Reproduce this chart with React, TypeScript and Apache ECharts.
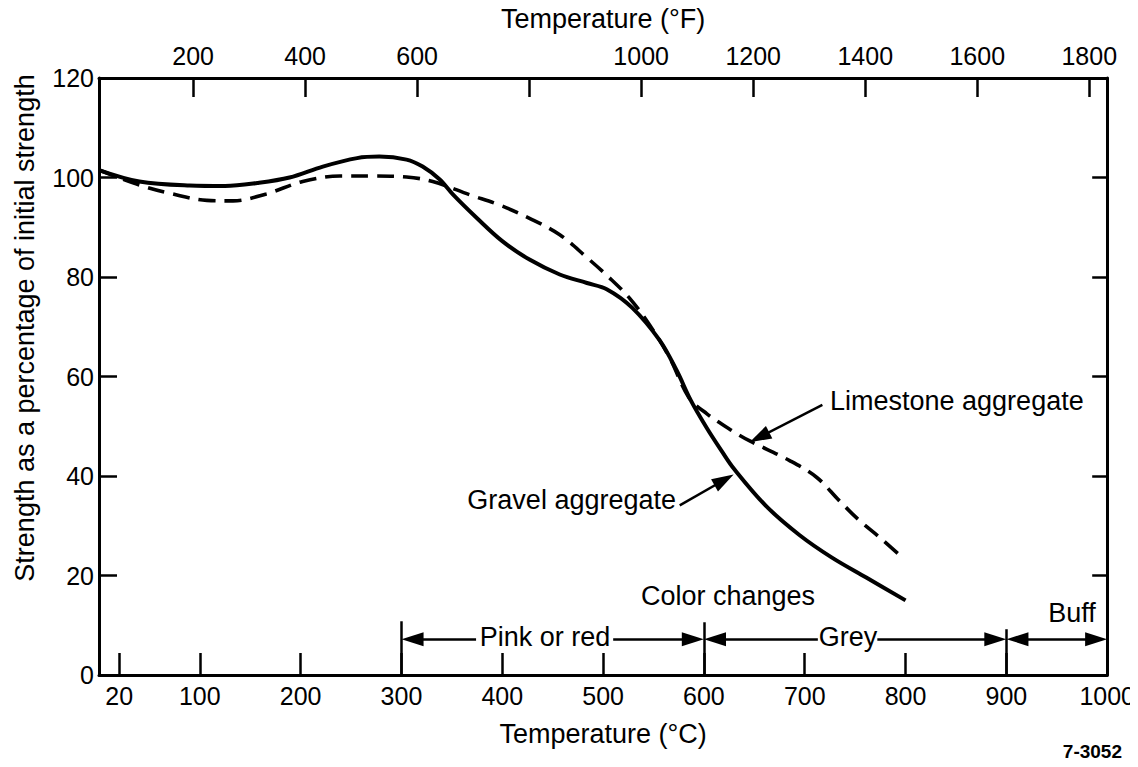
import React, { useEffect, useRef } from "react";
import * as echarts from "echarts";

// ---- Data ----
const gravelTempC = [0, 40, 90, 125, 157, 189, 222, 256, 278, 305, 321, 338, 351, 375, 400, 427, 457, 484, 504, 529, 556, 573, 587, 603, 618, 630, 662, 695, 727, 761, 800];
const gravelStrength = [101.5, 99.2, 98.4, 98.3, 98.9, 100, 102.2, 103.9, 104.2, 103.6, 102.2, 99.6, 96.6, 91.8, 87.2, 83.5, 80.5, 78.8, 77.5, 73.8, 67.3, 61.2, 55.2, 49.6, 44.9, 41.4, 33.9, 28.1, 23.6, 19.6, 15];

const limestoneTempC = [0, 40, 73, 107, 133, 166, 202, 239, 272, 305, 331, 368, 397, 427, 457, 484, 506, 526, 546, 566, 585, 603, 628, 645, 685, 712, 734, 754, 774, 797];
const limestoneStrength = [101.5, 98.5, 96.7, 95.4, 95.3, 96.7, 99.2, 100.3, 100.3, 100.1, 99.2, 96.5, 94.5, 91.8, 88.5, 83.9, 79.9, 75.8, 70.4, 63.8, 55.8, 52.5, 49.1, 47.1, 43.1, 39.7, 35.1, 31.1, 27.7, 23.6];

const celsiusTicks = [20, 100, 200, 300, 400, 500, 600, 700, 800, 900];
const celsiusLabels = [20, 100, 200, 300, 400, 500, 600, 700, 800, 900, 1000];
const fahrenheitTicks = [200, 400, 600, 800, 1000, 1200, 1400, 1600, 1800];
const fahrenheitLabels = [200, 400, 600, 1000, 1200, 1400, 1600, 1800];
const strengthInnerTicks = [20, 40, 60, 80, 100];

const colorBounds = [300, 600, 900];
const colorBoundTops = [10.8, 10.6, 9.2];
const colorNames = ["Pink or red", "Grey", "Buff"];

const FONT = "'Liberation Sans', Arial, Helvetica, sans-serif";

const zip = (xs: number[], ys: number[]) => xs.map((x, i) => [x, ys[i]]);

const arrowSize = [14, 22];
const seg = (x1: number, y1: number, x2: number, y2: number, a1: boolean, a2: boolean) => [
  { coord: [x1, y1], symbol: a1 ? "triangle" : "none", symbolSize: arrowSize },
  { coord: [x2, y2], symbol: a2 ? "triangle" : "none", symbolSize: arrowSize },
];

const plain = (v: number) => String(v);

export default function App() {
  const ref = useRef<HTMLDivElement>(null);

  useEffect(() => {
    if (!ref.current) return;
    const chart = echarts.init(ref.current, undefined, { renderer: "svg" });
    const arrowY = 7.2;

    const markLines = [
      ...colorBounds.map((b, i) => [
        { coord: [b, 0], symbol: "none" },
        { coord: [b, colorBoundTops[i]], symbol: "none" },
      ]),
      seg(colorBounds[0] + 11, arrowY, 374, arrowY, true, false),
      seg(510, arrowY, colorBounds[1] - 11, arrowY, false, true),
      seg(colorBounds[1] + 11, arrowY, 713, arrowY, true, false),
      seg(772, arrowY, colorBounds[2] - 11, arrowY, false, true),
      seg(colorBounds[2] + 11, arrowY, 989, arrowY, true, true),
      seg(717.5, 54.3, 655, 47.8, false, true),
      seg(576, 34.1, 620, 39.2, false, true),
    ];

    const textStyle = { fill: "#000", font: `27px ${FONT}` };

    chart.setOption({
      animation: false,
      backgroundColor: "#fff",
      grid: { left: 99, right: 30, top: 76, bottom: 92, containLabel: false },
      xAxis: [
        {
          type: "value",
          position: "bottom",
          min: 0,
          max: 1000,
          name: "Temperature (°C)",
          nameLocation: "middle",
          nameGap: 45,
          nameTextStyle: { color: "#000", fontSize: 27, fontFamily: FONT },
          axisLine: { show: true, onZero: false, lineStyle: { color: "#000", width: 3 } },
          axisTick: { show: true, inside: true, length: 22, customValues: celsiusTicks, lineStyle: { color: "#000", width: 2.5 } },
          axisLabel: { show: true, customValues: celsiusLabels, formatter: plain, color: "#000", fontSize: 25, fontFamily: FONT, margin: 8, showMaxLabel: true, showMinLabel: true },
          splitLine: { show: false },
        },
        {
          type: "value",
          position: "top",
          min: 32,
          max: 1832,
          name: "Temperature (°F)",
          nameLocation: "middle",
          nameGap: 46,
          nameTextStyle: { color: "#000", fontSize: 27, fontFamily: FONT },
          axisLine: { show: true, onZero: false, lineStyle: { color: "#000", width: 3 } },
          axisTick: { show: true, inside: true, length: 19, customValues: fahrenheitTicks, lineStyle: { color: "#000", width: 2.5 } },
          axisLabel: { show: true, customValues: fahrenheitLabels, formatter: plain, color: "#000", fontSize: 25, fontFamily: FONT, margin: 10 },
          splitLine: { show: false },
        },
      ],
      yAxis: [
        {
          type: "value",
          position: "left",
          min: 0,
          max: 120,
          interval: 20,
          axisLine: { show: true, onZero: false, lineStyle: { color: "#000", width: 3 } },
          axisTick: { show: true, inside: true, length: 18, customValues: strengthInnerTicks, lineStyle: { color: "#000", width: 2.5 } },
          axisLabel: { show: true, formatter: plain, color: "#000", fontSize: 25, fontFamily: FONT, margin: 5 },
          splitLine: { show: false },
        },
        {
          type: "value",
          position: "right",
          min: 0,
          max: 120,
          interval: 20,
          axisLine: { show: true, onZero: false, lineStyle: { color: "#000", width: 3 } },
          axisTick: { show: true, inside: true, length: 15, customValues: strengthInnerTicks, lineStyle: { color: "#000", width: 2.5 } },
          axisLabel: { show: false },
          splitLine: { show: false },
        },
      ],
      series: [
        {
          name: "Gravel aggregate",
          type: "line",
          xAxisIndex: 0,
          yAxisIndex: 0,
          data: zip(gravelTempC, gravelStrength),
          smooth: 0.35,
          showSymbol: false,
          symbol: "none",
          lineStyle: { color: "#000", width: 4, type: "solid" },
          z: 3,
          markLine: {
            silent: true,
            animation: false,
            symbol: ["none", "none"],
            label: { show: false },
            lineStyle: { color: "#000", width: 2.5, type: "solid" },
            itemStyle: { color: "#000" },
            emphasis: { disabled: true },
            data: markLines,
          },
        },
        {
          name: "Limestone aggregate",
          type: "line",
          xAxisIndex: 0,
          yAxisIndex: 0,
          data: zip(limestoneTempC, limestoneStrength),
          smooth: 0.35,
          showSymbol: false,
          symbol: "none",
          lineStyle: { color: "#000", width: 3.6, type: [17, 9] },
          z: 2,
        },
      ],
      graphic: [
        {
          type: "text",
          x: 25,
          y: 328,
          rotation: Math.PI / 2,
          style: { ...textStyle, text: "Strength as a percentage of initial strength", align: "center", verticalAlign: "middle" },
        },
        { type: "text", x: 830, y: 401, style: { ...textStyle, text: "Limestone aggregate", align: "left", verticalAlign: "middle" } },
        { type: "text", x: 676, y: 500, style: { ...textStyle, text: "Gravel aggregate", align: "right", verticalAlign: "middle" } },
        { type: "text", x: 728, y: 596, style: { ...textStyle, text: "Color changes", align: "center", verticalAlign: "middle" } },
        { type: "text", x: 545, y: 637, style: { ...textStyle, text: colorNames[0], align: "center", verticalAlign: "middle" } },
        { type: "text", x: 848, y: 637, style: { ...textStyle, text: colorNames[1], align: "center", verticalAlign: "middle" } },
        { type: "text", x: 1072, y: 613, style: { ...textStyle, text: colorNames[2], align: "center", verticalAlign: "middle" } },
        { type: "text", x: 1122, y: 751, style: { fill: "#000", font: `bold 19px ${FONT}`, text: "7-3052", align: "right", verticalAlign: "middle" } },
      ],
    });

    return () => chart.dispose();
  }, []);

  return <div ref={ref} style={{ width: 1138, height: 767, margin: -8 }} />;
}
